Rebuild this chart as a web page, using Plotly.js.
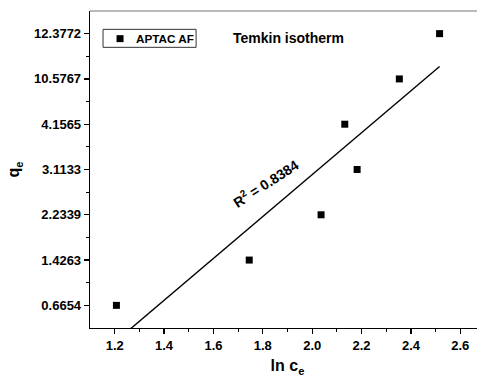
<!DOCTYPE html>
<html>
<head>
<meta charset="utf-8">
<script src="https://cdn.plot.ly/plotly-3.0.1.min.js"></script>
<style>
  html, body { margin: 0; padding: 0; background: #fff; overflow: hidden; }
  #wrap { width: 477px; height: 379px; overflow: hidden; }
  #chart { width: 490px; height: 379px; }
</style>
</head>
<body>
<div id="wrap"><div id="chart"></div></div>
<script>
// Temkin isotherm, APTAC AF: ln ce against the ranked qe levels
const lnCe = [1.207, 1.745, 2.036, 2.182, 2.132, 2.353, 2.516];
const qeRank = [1, 2, 3, 4, 5, 6, 7];
const qeLabels = ['0.6654', '1.4263', '2.2339', '3.1133', '4.1565', '10.5767', '12.3772'];
const xTicks = [1.2, 1.4, 1.6, 1.8, 2.0, 2.2, 2.4, 2.6];
const seriesName = 'APTAC AF';
const fitLabel = 'R<sup>2</sup> = 0.8384';

// least-squares line through the points
const n = lnCe.length;
const mx = lnCe.reduce((a, b) => a + b, 0) / n;
const my = qeRank.reduce((a, b) => a + b, 0) / n;
let sxy = 0, sxx = 0;
for (let i = 0; i < n; i++) {
  sxy += (lnCe[i] - mx) * (qeRank[i] - my);
  sxx += (lnCe[i] - mx) * (lnCe[i] - mx);
}
const slope = sxy / sxx;
const icpt = my - slope * mx;
const fitX = [Math.min(...lnCe), Math.max(...lnCe)];
const fitY = fitX.map(x => icpt + slope * x);

const FONT = 'Liberation Sans, Arial, sans-serif';
const MARK = { symbol: 'square', size: 7, color: '#000' };

const traces = [
  {
    x: lnCe, y: qeRank, name: seriesName, type: 'scatter', mode: 'markers',
    marker: MARK, showlegend: false
  },
  {
    x: fitX, y: fitY, type: 'scatter', mode: 'lines', showlegend: false,
    line: { color: '#000', width: 1.4 }, hoverinfo: 'skip'
  }
];

// compact legend box in the upper-left corner of the plot area
const legBox = { x0: 0.033, x1: 0.2686, y0: 0.8854, y1: 0.9421 };
const legSwatch = { x0: 0.0672, x1: 0.0849, y0: 0.9018, y1: 0.9238 };

const layout = {
  width: 490, height: 379,
  margin: { l: 90, r: 5.4, t: 10.6, b: 50.7 },
  paper_bgcolor: '#fff', plot_bgcolor: '#fff',
  font: { family: FONT, size: 13, color: '#000', weight: 'bold' },
  showlegend: false,
  xaxis: {
    range: [1.1, 2.7], tickvals: xTicks, ticktext: xTicks.map(v => v.toFixed(1)),
    ticks: 'outside', ticklen: 5, tickwidth: 1.3, tickcolor: '#000',
    showline: true, linecolor: '#000', linewidth: 1.3, showgrid: false, zeroline: false,
    tickfont: { family: FONT, size: 13, weight: 'bold' },
    minor: { tickvals: xTicks.map(v => +(v + 0.1).toFixed(1)), ticks: 'outside', ticklen: 3, tickwidth: 1.2, tickcolor: '#000' },
    title: { text: 'ln c<sub>e</sub>', font: { family: FONT, size: 16, weight: 'bold' }, standoff: 8 }
  },
  yaxis: {
    range: [0.5, 7.5], tickvals: qeRank, ticktext: qeLabels,
    ticks: 'outside', ticklen: 5, tickwidth: 1.3, tickcolor: '#000',
    showline: true, linecolor: '#000', linewidth: 1.3, showgrid: false, zeroline: false,
    tickfont: { family: FONT, size: 13, weight: 'bold' },
    minor: { tickvals: qeRank.slice(0, -1).map(v => v + 0.5), ticks: 'outside', ticklen: 3, tickwidth: 1.2, tickcolor: '#000' },
    title: { text: 'q<sub>e</sub>', font: { family: FONT, size: 16, weight: 'bold' }, standoff: 10 }
  },
  shapes: [
    { type: 'line', xref: 'paper', yref: 'paper', x0: 0, x1: 1, y0: 1, y1: 1,
      line: { color: '#777', width: 1 } },
    Object.assign({ type: 'rect', xref: 'paper', yref: 'paper',
      line: { color: '#333', width: 1 }, fillcolor: '#fff' }, legBox),
    Object.assign({ type: 'rect', xref: 'paper', yref: 'paper',
      line: { width: 0 }, fillcolor: MARK.color }, legSwatch)
  ],
  annotations: [
    { text: seriesName, xref: 'paper', yref: 'paper', x: 0.112, y: (legBox.y0 + legBox.y1) / 2,
      xanchor: 'left', yanchor: 'middle', showarrow: false,
      font: { family: FONT, size: 11.7, weight: 'bold', color: '#000' } },
    { text: 'Temkin isotherm', xref: 'x', yref: 'y', x: 1.672, y: 6.9,
      xanchor: 'left', yanchor: 'middle', showarrow: false,
      font: { family: FONT, size: 14, weight: 'bold', color: '#000' } },
    { text: fitLabel, xref: 'x', yref: 'y', x: 1.81, y: 3.71,
      xanchor: 'center', yanchor: 'middle', showarrow: false, textangle: -33,
      font: { family: FONT, size: 14, weight: 'bold', color: '#000' } }
  ]
};

Plotly.newPlot('chart', traces, layout, { displayModeBar: false, staticPlot: true });
</script>
</body>
</html>
